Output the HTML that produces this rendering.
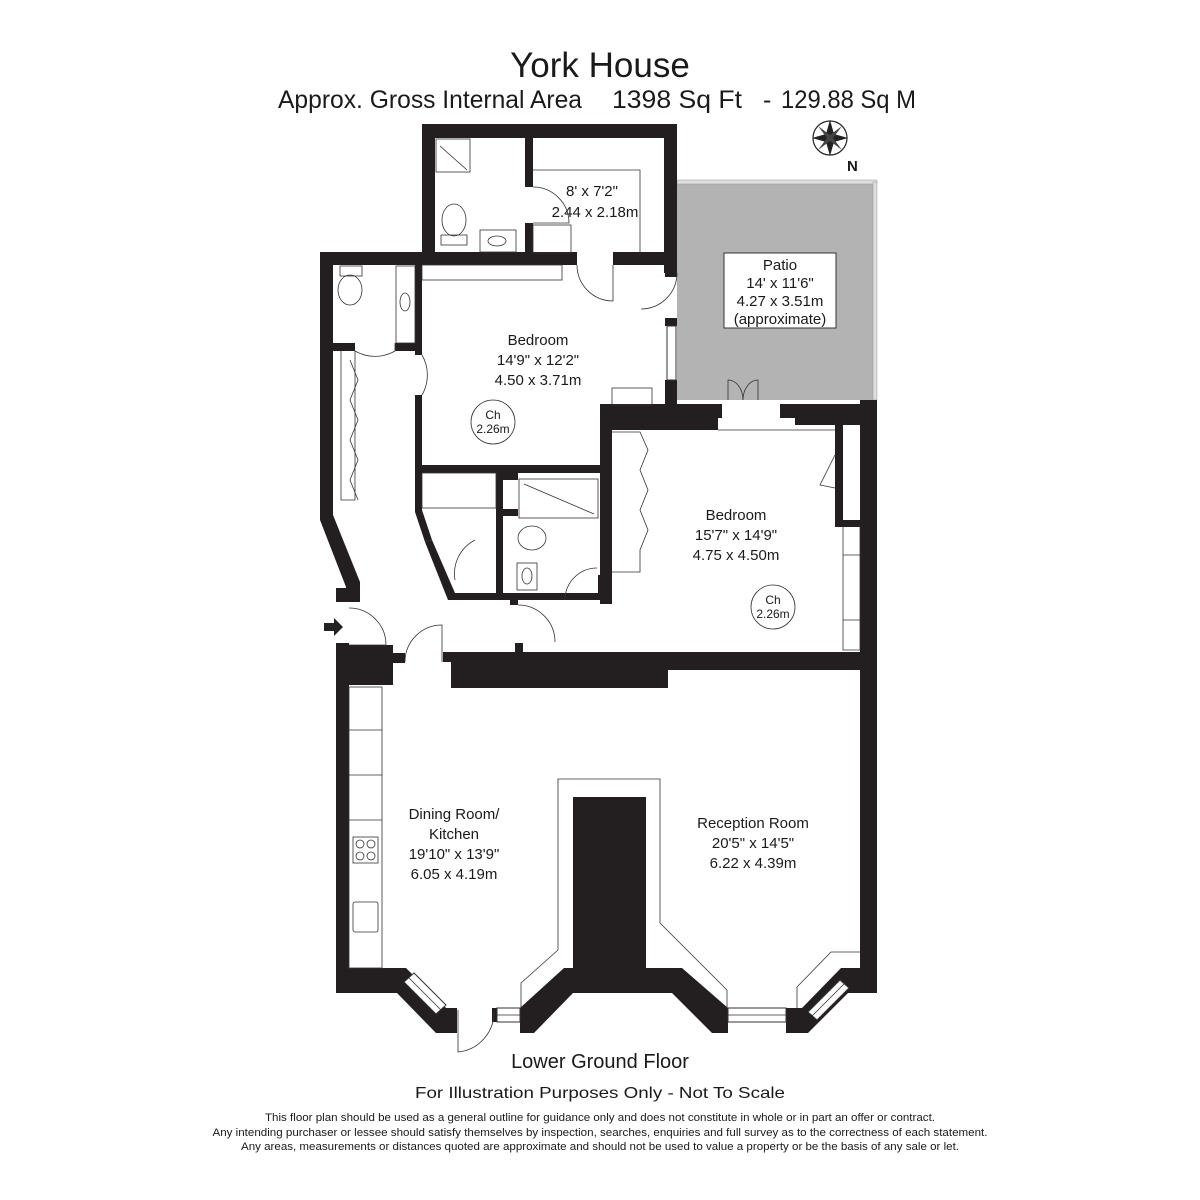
<!DOCTYPE html>
<html><head><meta charset="utf-8"><style>
html,body{margin:0;padding:0;background:#fff;width:1200px;height:1200px;overflow:hidden}
svg{display:block}
text{font-family:"Liberation Sans",Arial,sans-serif;fill:#1a1a1a}
</style></head><body>
<svg width="1200" height="1200" viewBox="0 0 1200 1200" xmlns="http://www.w3.org/2000/svg">
<rect width="1200" height="1200" fill="#fff"/>
<text x="600" y="77" font-size="35" text-anchor="middle">York House</text>
<text x="278" y="108" font-size="25" textLength="304" lengthAdjust="spacingAndGlyphs">Approx. Gross Internal Area</text>
<text x="612" y="108" font-size="25" textLength="130" lengthAdjust="spacingAndGlyphs">1398 Sq Ft</text>
<text x="763" y="108" font-size="25">-</text>
<text x="781" y="108" font-size="25" textLength="135" lengthAdjust="spacingAndGlyphs">129.88 Sq M</text>

<g transform="translate(830,138)">
<circle r="17" fill="none" stroke="#222" stroke-width="1.2"/>
<path d="M0,-18 L4,-4 L18,0 L4,4 L0,18 L-4,4 L-18,0 L-4,-4Z" fill="#222"/>
<path d="M-12,-12 L0,-3 L12,-12 L3,0 L12,12 L0,3 L-12,12 L-3,0Z" fill="#444"/>
</g>
<text x="847" y="171" font-size="15" font-weight="bold">N</text>

<rect x="677" y="182" width="200" height="218" fill="#b3b3b3"/>
<rect x="677" y="180" width="200" height="4" fill="#ddd" stroke="#999" stroke-width="0.5"/>
<rect x="873" y="182" width="4" height="218" fill="#ddd" stroke="#999" stroke-width="0.5"/>
<rect x="724" y="253" width="112" height="75" fill="#fff" stroke="#333" stroke-width="1"/>
<g font-size="15" text-anchor="middle">
<text x="780" y="270">Patio</text>
<text x="780" y="288">14' x 11'6"</text>
<text x="780" y="306">4.27 x 3.51m</text>
<text x="780" y="324">(approximate)</text>
</g>

<g fill="#231f20">
<rect x="422" y="124" width="255" height="14"/>
<rect x="422" y="124" width="13" height="141"/>
<rect x="664" y="124" width="13" height="149"/>
<rect x="525" y="138" width="8" height="49"/>
<rect x="525" y="223" width="8" height="42"/>
<rect x="320" y="252" width="257" height="13"/>
<rect x="613" y="252" width="64" height="13"/>
<polygon points="320,252 333,252 333,515 360,582 360,600 346,600 346,587 320,520"/>
<rect x="336" y="588" width="24" height="14"/>
<rect x="336" y="643" width="13" height="350"/>
<rect x="333" y="343" width="22" height="8"/>
<rect x="395" y="343" width="27" height="8"/>
<rect x="415" y="265" width="7" height="90"/>
<polygon points="415,395 422,395 422,510 432,540 425,542 415,512"/>
<rect x="665" y="265" width="12" height="12"/>
<rect x="665" y="318" width="12" height="8"/>
<rect x="665" y="380" width="12" height="25"/>
<rect x="415" y="465" width="190" height="8"/>
<polygon points="600,404 722,404 722,418 718,418 718,430 612,430 612,575 600,575"/>
<polygon points="780,404 877,404 877,425 795,425 795,418 780,418"/>
<rect x="600" y="562" width="12" height="42"/>
<rect x="860" y="400" width="17" height="260"/>
<rect x="835" y="425" width="8" height="100"/>
<rect x="835" y="520" width="25" height="7"/>
<polygon points="425,542 432,540 455,593 565,593 565,600 448,600"/>
<rect x="496" y="473" width="7" height="127"/>
<rect x="503" y="473" width="15" height="7"/>
<rect x="503" y="509" width="15" height="7"/>
<rect x="598" y="575" width="7" height="25"/>
<rect x="558" y="593" width="47" height="7"/>
<rect x="510" y="593" width="8" height="12"/>
<rect x="336" y="645" width="57" height="40"/>
<rect x="349" y="653" width="56" height="10"/>
<rect x="443" y="652" width="8" height="10"/>
<rect x="451" y="652" width="424" height="18"/>
<rect x="451" y="668" width="217" height="20"/>
<rect x="515" y="643" width="8" height="12"/>
<rect x="860" y="655" width="17" height="338"/>
<polygon points="336,968 406,968 446,1008 457,1008 457,1033 436,1033 397,993 336,993"/>
<rect x="573" y="797" width="73" height="175"/>
<polygon points="520,1008 564,968 682,968 728,1008 728,1033 712,1033 672,993 573,993 534,1033 520,1033"/>
<polygon points="786,1008 802,1008 841,968 877,968 877,993 848,993 808,1033 786,1033"/>
<rect x="492" y="1008" width="5" height="14"/>
</g>

<g fill="#fff" stroke="#333" stroke-width="1">
<rect x="497" y="1008" width="23" height="14"/>
<rect x="728" y="1008" width="58" height="14"/>
<polygon points="404,982 414,973 446,1005 436,1014"/>
<polygon points="808,1012 840,980 849,988 817,1020"/>
<rect x="667" y="326" width="9" height="54"/>
</g>
<g stroke="#333" stroke-width="0.8" fill="none">
<line x1="497" y1="1015" x2="520" y2="1015"/><line x1="728" y1="1015" x2="786" y2="1015"/>
<line x1="409" y1="978" x2="441" y2="1010"/><line x1="812" y1="1016" x2="844" y2="984"/>
<path d="M533,187 A36,36 0 0 1 569,223 L533,223"/>
<path d="M577,265 A36,36 0 0 0 613,301 L613,265"/>
<path d="M677,273 A36,36 0 0 1 641,309"/>
<path d="M422,355 A40,40 0 0 1 422,395"/>
<path d="M355,351 A40,40 0 0 0 395,351 L395,343"/>
<path d="M349,608 A37,37 0 0 1 386,645 L349,645"/>
<path d="M405,662 A37,37 0 0 1 442,625 L442,662"/>
<path d="M518,605 A37,37 0 0 1 555,642"/>
<path d="M565,600 A32,32 0 0 1 597,568"/>
<path d="M455,580 A38,38 0 0 1 475,540"/>
<path d="M728,400 L728,380 A15,20 0 0 1 743,400 A15,20 0 0 1 758,380 L758,400"/>
<path d="M458,1010 L458,1052 A40,40 0 0 0 494,1012"/>
<rect x="436" y="139" width="34" height="33"/><line x1="440" y1="146" x2="467" y2="170"/>
<ellipse cx="454" cy="220" rx="12" ry="16"/><rect x="441" y="235" width="26" height="10"/>
<rect x="480" y="230" width="36" height="22"/><ellipse cx="497" cy="241" rx="9" ry="5"/>
<rect x="533" y="225" width="38" height="28"/>
<polyline points="533,170 640,170 640,255"/>
<rect x="422" y="265" width="140" height="15"/>
<ellipse cx="350" cy="290" rx="12" ry="15"/><rect x="340" y="266" width="22" height="10"/>
<rect x="396" y="266" width="19" height="77"/><ellipse cx="405" cy="302" rx="5" ry="9"/>
<rect x="612" y="388" width="40" height="17"/>
<rect x="519" y="479" width="79" height="39"/><line x1="524" y1="484" x2="594" y2="514"/>
<ellipse cx="532" cy="538" rx="14" ry="12"/>
<rect x="517" y="563" width="20" height="27"/><ellipse cx="527" cy="576" rx="5" ry="8"/>
<rect x="422" y="473" width="74" height="35"/>
<line x1="718" y1="430" x2="835" y2="430"/>
<polyline points="341,351 341,500 355,500 355,351"/>
<polyline points="350,360 358,380 350,400 358,420 350,440 358,460 350,480 358,500"/>
<polyline points="612,432 640,432 648,450 640,470 648,490 640,510 648,530 640,550 640,572 612,572"/>
<polyline points="835,455 820,485 835,488"/>
<polyline points="843,527 843,650 860,650 860,527"/><line x1="843" y1="555" x2="860" y2="555"/><line x1="843" y1="620" x2="860" y2="620"/>
<rect x="349" y="687" width="33" height="281"/>
<line x1="349" y1="730" x2="382" y2="730"/><line x1="349" y1="775" x2="382" y2="775"/><line x1="349" y1="820" x2="382" y2="820"/>
<rect x="353" y="837" width="25" height="26"/>
<circle cx="360" cy="844" r="4"/><circle cx="371" cy="844" r="4"/><circle cx="360" cy="856" r="4"/><circle cx="371" cy="856" r="4"/>
<rect x="353" y="902" width="25" height="30" rx="2"/>
<polyline points="521,1008 521,983 558,950 558,779 660,779 660,923 727,990 727,1008"/>
<polyline points="797,1008 797,987 831,952 860,952"/>
<circle cx="493" cy="422" r="22"/>
<circle cx="773" cy="607" r="22"/>
</g>

<polygon points="324,623 334,623 334,618 343,627 334,636 334,631 324,631" fill="#222"/>

<g font-size="15" text-anchor="middle">
<text x="592" y="196">8' x 7'2"</text>
<text x="595" y="217">2.44 x 2.18m</text>
<text x="538" y="345">Bedroom</text>
<text x="538" y="365">14'9" x 12'2"</text>
<text x="538" y="385">4.50 x 3.71m</text>
<text x="736" y="520">Bedroom</text>
<text x="736" y="540">15'7" x 14'9"</text>
<text x="736" y="560">4.75 x 4.50m</text>
<text x="454" y="819">Dining Room/</text>
<text x="454" y="839">Kitchen</text>
<text x="454" y="859">19'10" x 13'9"</text>
<text x="454" y="879">6.05 x 4.19m</text>
<text x="753" y="828">Reception Room</text>
<text x="753" y="848">20'5" x 14'5"</text>
<text x="753" y="868">6.22 x 4.39m</text>
</g>
<g font-size="12" text-anchor="middle">
<text x="493" y="419">Ch</text><text x="493" y="433">2.26m</text>
<text x="773" y="604">Ch</text><text x="773" y="618">2.26m</text>
</g>

<text x="600" y="1068" font-size="20" text-anchor="middle">Lower Ground Floor</text>
<text x="600" y="1098" font-size="16" text-anchor="middle" textLength="370" lengthAdjust="spacingAndGlyphs">For Illustration Purposes Only - Not To Scale</text>
<g font-size="11" text-anchor="middle">
<text x="600" y="1121" textLength="670" lengthAdjust="spacingAndGlyphs">This floor plan should be used as a general outline for guidance only and does not constitute in whole or in part an offer or contract.</text>
<text x="600" y="1136" textLength="775" lengthAdjust="spacingAndGlyphs">Any intending purchaser or lessee should satisfy themselves by inspection, searches, enquiries and full survey as to the correctness of each statement.</text>
<text x="600" y="1150" textLength="718" lengthAdjust="spacingAndGlyphs">Any areas, measurements or distances quoted are approximate and should not be used to value a property or be the basis of any sale or let.</text>
</g>
</svg>
</body></html>
